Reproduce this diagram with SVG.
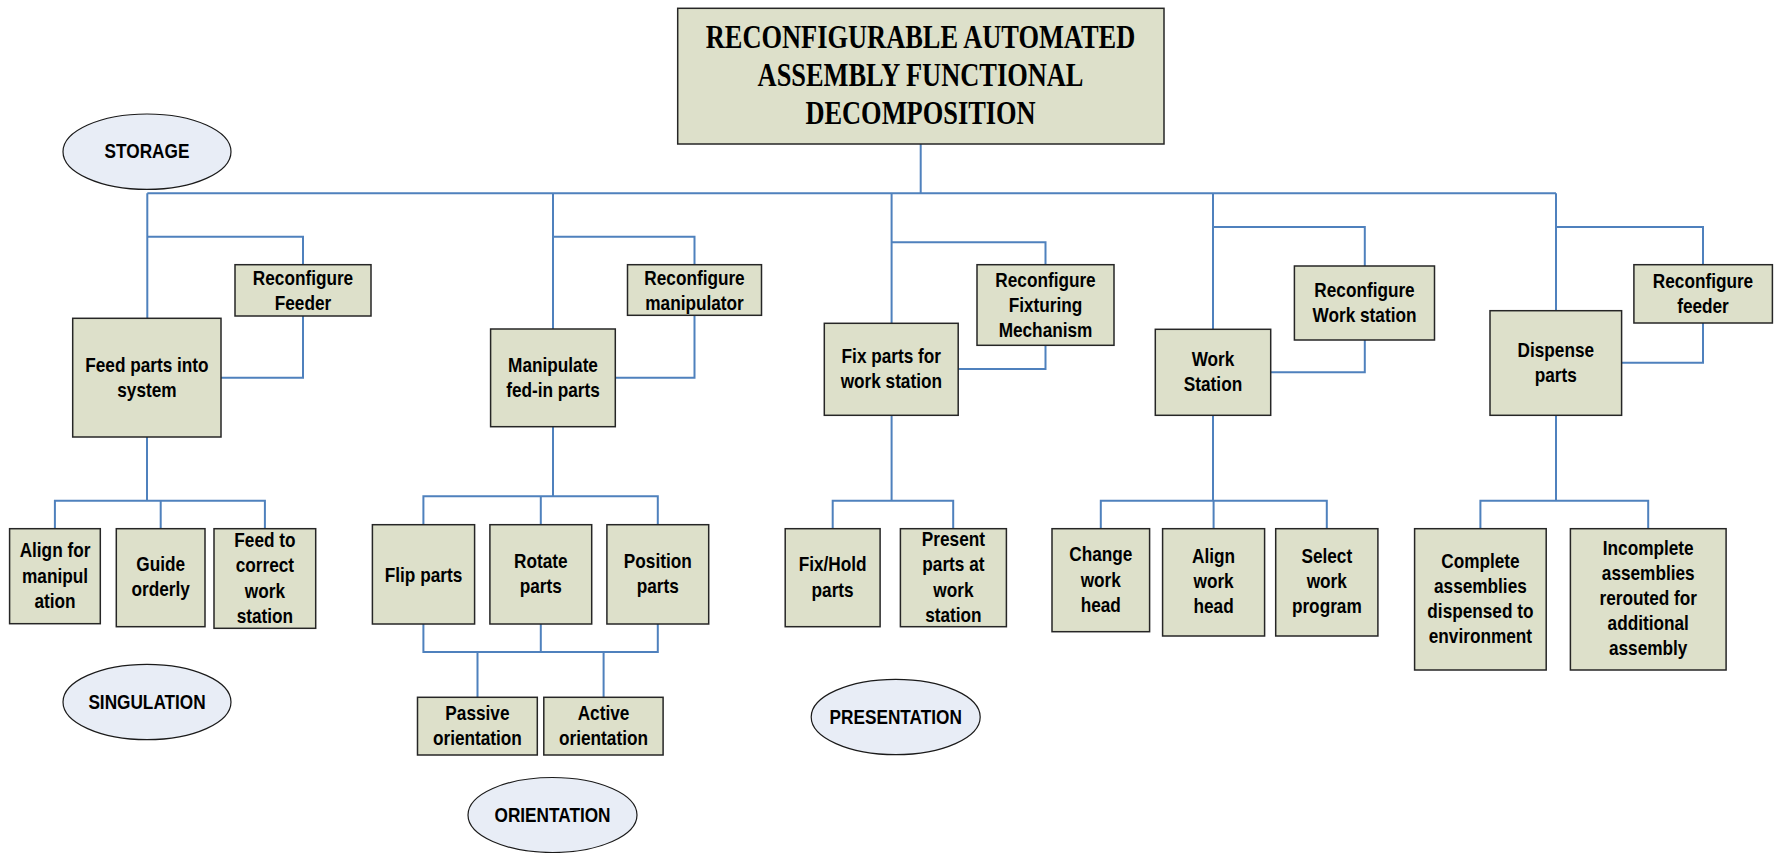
<svg xmlns="http://www.w3.org/2000/svg" width="1777" height="853" viewBox="0 0 1777 853">
<style>
.bx{fill:#dde0ca;stroke:#262626;stroke-width:1.5}
.el{fill:#e8edf6;stroke:#1a1a1a;stroke-width:1.2}
.t{font-family:"Liberation Sans",Arial,sans-serif;font-weight:bold;font-size:21px;fill:#000;text-anchor:middle}
.tt{font-family:"Liberation Serif","Times New Roman",serif;font-weight:bold;font-size:33px;fill:#000;text-anchor:middle}
.c{fill:none;stroke:#4f81bd;stroke-width:2}
</style>
<rect width="1777" height="853" fill="#fff"/>
<g id="connectors">
<path class="c" d="M920.7,144V193.3M147.3,193.3H1556"/>
<path class="c" d="M147.3,193.3V318.3M147.3,236.7H303V264.7M303,316V377.7H221"/>
<path class="c" d="M553,193.3V329M553,236.7H694.5V264.7M694.5,315.3V377.7H615.3"/>
<path class="c" d="M891.6,193.3V323.3M891.6,242.3H1045.5V264.7M1045.5,345.3V369H958.2"/>
<path class="c" d="M1213,193.3V329.3M1213,227H1364.8V266M1364.8,340V372.3H1270.7"/>
<path class="c" d="M1556,193.3V310.7M1556,227H1703V264.7M1703,323V362.7H1621.6"/>
<path class="c" d="M147,437V500.7M54.9,528.7V500.7H264.9V528.7M160.7,500.7V528.7"/>
<path class="c" d="M553,426.7V496.3M423.4,524.7V496.3H657.8V524.7M540.8,496.3V524.7"/>
<path class="c" d="M423.4,624V652H657.8V624M540.8,624V652M477.5,652V697.3M603.6,652V697.3"/>
<path class="c" d="M891.6,415.3V500.7M832.7,528.7V500.7H953.2V528.7"/>
<path class="c" d="M1213,415.3V500.7M1100.8,528.7V500.7H1326.8V528.7M1213.6,500.7V528.7"/>
<path class="c" d="M1556,415.3V500.7M1480.4,528.7V500.7H1648.2V528.7"/>
</g>
<g id="title">
<rect class="bx" x="677.7" y="8.3" width="486.3" height="135.7"/>
<text class="tt" transform="translate(920.5 0) scale(0.8 1)"><tspan x="0" y="48.3">RECONFIGURABLE AUTOMATED</tspan><tspan x="0" y="86">ASSEMBLY FUNCTIONAL</tspan><tspan x="0" y="124">DECOMPOSITION</tspan></text>
</g>
<g id="storage">
<ellipse class="el" cx="147" cy="151.7" rx="84" ry="37.7"/>
<text class="t" transform="translate(147 0) scale(0.82 1)"><tspan x="0" y="157.7">STORAGE</tspan></text>
</g>
<g id="singulation">
<ellipse class="el" cx="147" cy="702" rx="84" ry="37.7"/>
<text class="t" transform="translate(147 0) scale(0.82 1)"><tspan x="0" y="709.3">SINGULATION</tspan></text>
</g>
<g id="orientation">
<ellipse class="el" cx="552.5" cy="815" rx="84.5" ry="37.5"/>
<text class="t" transform="translate(552.5 0) scale(0.82 1)"><tspan x="0" y="821.7">ORIENTATION</tspan></text>
</g>
<g id="presentation">
<ellipse class="el" cx="895.7" cy="717" rx="84.5" ry="37.7"/>
<text class="t" transform="translate(895.7 0) scale(0.82 1)"><tspan x="0" y="724.3">PRESENTATION</tspan></text>
</g>
<g id="feed-parts">
<rect class="bx" x="72.7" y="318.3" width="148.3" height="118.7"/>
<text class="t" transform="translate(146.9 0) scale(0.82 1)"><tspan x="0" y="371.7">Feed parts into</tspan><tspan x="0" y="396.7">system</tspan></text>
</g>
<g id="reconfigure-feeder">
<rect class="bx" x="235" y="264.7" width="136" height="51.3"/>
<text class="t" transform="translate(303 0) scale(0.82 1)"><tspan x="0" y="285">Reconfigure</tspan><tspan x="0" y="310">Feeder</tspan></text>
</g>
<g id="manipulate">
<rect class="bx" x="490.6" y="329" width="124.7" height="97.7"/>
<text class="t" transform="translate(553 0) scale(0.82 1)"><tspan x="0" y="371.7">Manipulate</tspan><tspan x="0" y="396.7">fed-in parts</tspan></text>
</g>
<g id="reconfigure-manipulator">
<rect class="bx" x="627.5" y="264.7" width="134" height="50.6"/>
<text class="t" transform="translate(694.5 0) scale(0.82 1)"><tspan x="0" y="285">Reconfigure</tspan><tspan x="0" y="310">manipulator</tspan></text>
</g>
<g id="fix-parts">
<rect class="bx" x="824.3" y="323.3" width="133.9" height="92"/>
<text class="t" transform="translate(891.3 0) scale(0.82 1)"><tspan x="0" y="363.3">Fix parts for</tspan><tspan x="0" y="388.3">work station</tspan></text>
</g>
<g id="reconfigure-fixturing">
<rect class="bx" x="977" y="264.7" width="137" height="80.6"/>
<text class="t" transform="translate(1045.5 0) scale(0.82 1)"><tspan x="0" y="286.7">Reconfigure</tspan><tspan x="0" y="312">Fixturing</tspan><tspan x="0" y="337.3">Mechanism</tspan></text>
</g>
<g id="work-station">
<rect class="bx" x="1155.3" y="329.3" width="115.4" height="86"/>
<text class="t" transform="translate(1213 0) scale(0.82 1)"><tspan x="0" y="366">Work</tspan><tspan x="0" y="391.5">Station</tspan></text>
</g>
<g id="reconfigure-work-station">
<rect class="bx" x="1294.4" y="266" width="140.1" height="74"/>
<text class="t" transform="translate(1364.5 0) scale(0.82 1)"><tspan x="0" y="296.7">Reconfigure</tspan><tspan x="0" y="321.7">Work station</tspan></text>
</g>
<g id="dispense-parts">
<rect class="bx" x="1490" y="310.7" width="131.6" height="104.6"/>
<text class="t" transform="translate(1555.8 0) scale(0.82 1)"><tspan x="0" y="357.3">Dispense</tspan><tspan x="0" y="381.7">parts</tspan></text>
</g>
<g id="reconfigure-feeder-2">
<rect class="bx" x="1633.9" y="264.7" width="138.5" height="58.3"/>
<text class="t" transform="translate(1703 0) scale(0.82 1)"><tspan x="0" y="288.3">Reconfigure</tspan><tspan x="0" y="313.3">feeder</tspan></text>
</g>
<g id="align-manipulation">
<rect class="bx" x="9.6" y="528.7" width="90.7" height="95"/>
<text class="t" transform="translate(55 0) scale(0.82 1)"><tspan x="0" y="557.3">Align for</tspan><tspan x="0" y="582.7">manipul</tspan><tspan x="0" y="607.7">ation</tspan></text>
</g>
<g id="guide-orderly">
<rect class="bx" x="116.3" y="528.7" width="88.7" height="98"/>
<text class="t" transform="translate(160.7 0) scale(0.82 1)"><tspan x="0" y="570.7">Guide</tspan><tspan x="0" y="595.7">orderly</tspan></text>
</g>
<g id="feed-to-station">
<rect class="bx" x="214" y="528.7" width="101.7" height="99.6"/>
<text class="t" transform="translate(264.9 0) scale(0.82 1)"><tspan x="0" y="547.3">Feed to</tspan><tspan x="0" y="572.3">correct</tspan><tspan x="0" y="597.7">work</tspan><tspan x="0" y="622.7">station</tspan></text>
</g>
<g id="flip-parts">
<rect class="bx" x="372.4" y="524.7" width="102.2" height="99.3"/>
<text class="t" transform="translate(423.5 0) scale(0.82 1)"><tspan x="0" y="581.7">Flip parts</tspan></text>
</g>
<g id="rotate-parts">
<rect class="bx" x="489.9" y="524.7" width="101.8" height="99.3"/>
<text class="t" transform="translate(540.8 0) scale(0.82 1)"><tspan x="0" y="568.3">Rotate</tspan><tspan x="0" y="593.3">parts</tspan></text>
</g>
<g id="position-parts">
<rect class="bx" x="606.9" y="524.7" width="101.8" height="99.3"/>
<text class="t" transform="translate(657.8 0) scale(0.82 1)"><tspan x="0" y="568.3">Position</tspan><tspan x="0" y="593.3">parts</tspan></text>
</g>
<g id="passive-orientation">
<rect class="bx" x="417.5" y="697.3" width="119.8" height="57.7"/>
<text class="t" transform="translate(477.4 0) scale(0.82 1)"><tspan x="0" y="720">Passive</tspan><tspan x="0" y="745">orientation</tspan></text>
</g>
<g id="active-orientation">
<rect class="bx" x="543.8" y="697.3" width="119.3" height="57.7"/>
<text class="t" transform="translate(603.5 0) scale(0.82 1)"><tspan x="0" y="720">Active</tspan><tspan x="0" y="745">orientation</tspan></text>
</g>
<g id="fix-hold">
<rect class="bx" x="785.2" y="528.7" width="94.9" height="98"/>
<text class="t" transform="translate(832.6 0) scale(0.82 1)"><tspan x="0" y="571">Fix/Hold</tspan><tspan x="0" y="596.7">parts</tspan></text>
</g>
<g id="present-parts">
<rect class="bx" x="900.4" y="528.7" width="106" height="98"/>
<text class="t" transform="translate(953.4 0) scale(0.82 1)"><tspan x="0" y="546">Present</tspan><tspan x="0" y="571">parts at</tspan><tspan x="0" y="596.7">work</tspan><tspan x="0" y="622.3">station</tspan></text>
</g>
<g id="change-work-head">
<rect class="bx" x="1052" y="528.7" width="97.6" height="103"/>
<text class="t" transform="translate(1100.8 0) scale(0.82 1)"><tspan x="0" y="561">Change</tspan><tspan x="0" y="586.7">work</tspan><tspan x="0" y="611.7">head</tspan></text>
</g>
<g id="align-work-head">
<rect class="bx" x="1162.6" y="528.7" width="102" height="107.3"/>
<text class="t" transform="translate(1213.6 0) scale(0.82 1)"><tspan x="0" y="563.3">Align</tspan><tspan x="0" y="588.3">work</tspan><tspan x="0" y="613.3">head</tspan></text>
</g>
<g id="select-work-program">
<rect class="bx" x="1275.7" y="528.7" width="102.2" height="107.3"/>
<text class="t" transform="translate(1326.8 0) scale(0.82 1)"><tspan x="0" y="563.3">Select</tspan><tspan x="0" y="588.3">work</tspan><tspan x="0" y="613.3">program</tspan></text>
</g>
<g id="complete-assemblies">
<rect class="bx" x="1414.6" y="528.7" width="131.6" height="141.3"/>
<text class="t" transform="translate(1480.4 0) scale(0.82 1)"><tspan x="0" y="568.3">Complete</tspan><tspan x="0" y="593.3">assemblies</tspan><tspan x="0" y="618.3">dispensed to</tspan><tspan x="0" y="643.3">environment</tspan></text>
</g>
<g id="incomplete-assemblies">
<rect class="bx" x="1570.4" y="528.7" width="155.7" height="141.3"/>
<text class="t" transform="translate(1648.2 0) scale(0.82 1)"><tspan x="0" y="555">Incomplete</tspan><tspan x="0" y="580">assemblies</tspan><tspan x="0" y="605">rerouted for</tspan><tspan x="0" y="630">additional</tspan><tspan x="0" y="655">assembly</tspan></text>
</g>
</svg>
